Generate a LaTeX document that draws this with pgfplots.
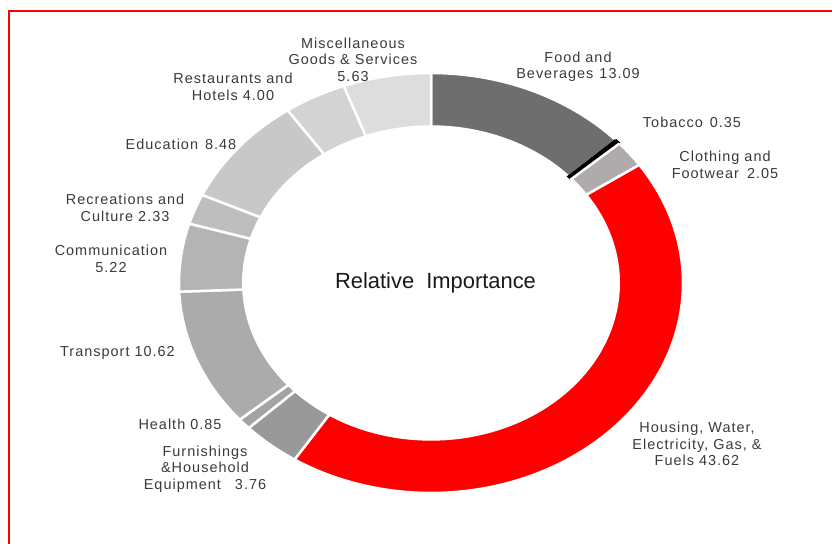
\documentclass[border=0pt]{standalone}
\usepackage{fontspec}
\setmainfont{Liberation Sans}
\newfontfamily\labfont[LetterSpace=7]{Liberation Sans}
\usepackage{pgfplots}
\pgfplotsset{compat=1.18}
\definecolor{cfood}{HTML}{6E6E6E}
\definecolor{ctob}{HTML}{000000}
\definecolor{ccloth}{HTML}{AFABAB}
\definecolor{chouse}{HTML}{FF0000}
\definecolor{cfurn}{HTML}{999999}
\definecolor{chealth}{HTML}{A3A3A3}
\definecolor{ctrans}{HTML}{ABABAB}
\definecolor{ccomm}{HTML}{B4B4B4}
\definecolor{crec}{HTML}{BEBEBE}
\definecolor{cedu}{HTML}{C8C8C8}
\definecolor{crest}{HTML}{D3D3D3}
\definecolor{cmisc}{HTML}{DDDDDD}
\definecolor{labgray}{HTML}{3A3A3A}
% slice: start (cumulative %), value (%), colour
\newcommand\slice[4][white]{%
  \addplot[fill=#4, draw=#1, line width=2.5bp, line join=miter, domain=0:4, samples=401, mark=none]
  ({431+252*rf(x)*sin(af(x,#2,#3))},{261+210*rf(x)*cos(af(x,#2,#3))});
}
\tikzset{lab/.style={font=\labfont\fontsize{14.5}{16.5}\selectfont, text=labgray, align=center, inner sep=0pt}}
\begin{document}
\begin{tikzpicture}
\useasboundingbox (0,0) rectangle (832bp,544bp);
\begin{axis}[at={(0,0)}, anchor=south west, scale only axis,
  width=832bp, height=544bp, xmin=0, xmax=832, ymin=0, ymax=544,
  hide axis, clip=false,
  declare function={
    rf(\t)=(\t<=1) ? 1 : ((\t<=2) ? 1-0.255*(\t-1) : ((\t<=3) ? 0.745 : 0.745+0.255*(\t-3)));
    af(\t,\s,\v)=3.6*((\t<=1) ? \s+\v*\t : ((\t<=2) ? \s+\v : ((\t<=3) ? \s+\v*(3-\t) : \s)));
  }]
% Relative importance (%), start = cumulative sum of the preceding values
\slice{0}{13.09}{cfood}        % Food and Beverages
\slice[black]{13.09}{0.35}{ctob}      % Tobacco
\slice{13.44}{2.05}{ccloth}    % Clothing and Footwear
\slice{15.49}{43.62}{chouse}   % Housing, Water, Electricity, Gas, & Fuels
\slice{59.11}{3.76}{cfurn}     % Furnishings
\slice{62.87}{0.85}{chealth}   % Health
\slice{63.72}{10.62}{ctrans}   % Transport
\slice{74.34}{5.22}{ccomm}     % Communication
\slice{79.56}{2.33}{crec}      % Recreations and Culture
\slice{81.89}{8.48}{cedu}      % Education
\slice{90.37}{4.00}{crest}     % Restaurants and Hotels
\slice{94.37}{5.63}{cmisc}     % Miscellaneous
% border
\draw[red, line width=2bp] (axis cs:9,0) -- (axis cs:9,533) -- (axis cs:832,533);
% labels
\node[lab] at (axis cs:353,484.5) {Miscellaneous\\Goods \& Services\\5.63};
\node[lab] at (axis cs:578,477) {Food and\\Beverages\hspace{6bp}13.09};
\node[lab] at (axis cs:692,422) {Tobacco\hspace{2bp} 0.35};
\node[lab] at (axis cs:725,379) {Clothing and\\Footwear\hspace{3bp} 2.05};
\node[lab] at (axis cs:697,100) {Housing, Water,\\Electricity, Gas, \&\\Fuels 43.62};
\node[lab] at (axis cs:205,75) {Furnishings\\\&Household\\Equipment\hspace{9bp} 3.76};
\node[lab] at (axis cs:180,120) {Health 0.85};
\node[lab] at (axis cs:117.5,191) {Transport 10.62};
\node[lab] at (axis cs:111,285) {Communication\\5.22};
\node[lab] at (axis cs:125,336) {Recreations and\\Culture 2.33};
\node[lab] at (axis cs:181,400) {Education\hspace{2bp} 8.48};
\node[lab] at (axis cs:233,457) {Restaurants and\\Hotels 4.00};
\node[font=\fontsize{22}{26}\selectfont, text=black!90, inner sep=0pt] at (axis cs:435.5,261) {Relative\hspace{6bp} Importance};
\end{axis}
\end{tikzpicture}
\end{document}
